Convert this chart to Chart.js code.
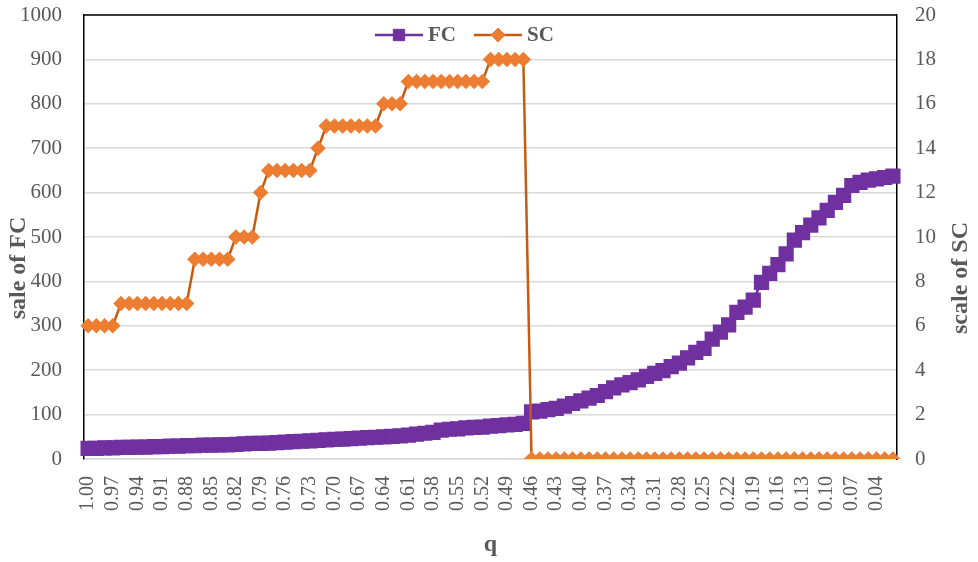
<!DOCTYPE html>
<html>
<head>
<meta charset="utf-8">
<script src="https://cdn.jsdelivr.net/npm/chart.js@4.4.1/dist/chart.umd.min.js"></script>
<style>
  body { margin: 0; background: #fff; }
  #wrap { width: 978px; height: 562px; }
</style>
</head>
<body>
<div id="wrap"><canvas id="QChart" width="978" height="562"></canvas></div>
<script>
var qLabels = [
  "1.00", "0.99", "0.98", "0.97", "0.96", "0.95", "0.94", "0.93", "0.92", "0.91",
  "0.90", "0.89", "0.88", "0.87", "0.86", "0.85", "0.84", "0.83", "0.82", "0.81",
  "0.80", "0.79", "0.78", "0.77", "0.76", "0.75", "0.74", "0.73", "0.72", "0.71",
  "0.70", "0.69", "0.68", "0.67", "0.66", "0.65", "0.64", "0.63", "0.62", "0.61",
  "0.60", "0.59", "0.58", "0.57", "0.56", "0.55", "0.54", "0.53", "0.52", "0.51",
  "0.50", "0.49", "0.48", "0.47", "0.46", "0.45", "0.44", "0.43", "0.42", "0.41",
  "0.40", "0.39", "0.38", "0.37", "0.36", "0.35", "0.34", "0.33", "0.32", "0.31",
  "0.30", "0.29", "0.28", "0.27", "0.26", "0.25", "0.24", "0.23", "0.22", "0.21",
  "0.20", "0.19", "0.18", "0.17", "0.16", "0.15", "0.14", "0.13", "0.12", "0.11",
  "0.10", "0.09", "0.08", "0.07", "0.06", "0.05", "0.04", "0.03", "0.02"
];

var fcValues = [
  24, 24, 25, 25, 26, 26, 27, 27, 28, 28,
  29, 29, 30, 30, 31, 31, 32, 32, 33, 34,
  35, 35, 36, 37, 38, 39, 40, 41, 42, 43,
  44, 45, 46, 47, 48, 49, 50, 51, 52, 54,
  56, 58, 60, 65, 67, 68, 70, 71, 72, 74,
  75, 77, 78, 80, 106, 108, 111, 114, 119, 125,
  131, 137, 143, 152, 160, 167, 172, 178, 186, 193,
  199, 208, 216, 228, 240, 249, 270, 286, 302, 330,
  342, 358, 398, 418, 438, 462, 493, 510, 527, 543,
  560, 578, 594, 616, 623, 628, 631, 634, 637
];

var scValues = [
  6, 6, 6, 6, 7, 7, 7, 7, 7, 7,
  7, 7, 7, 9, 9, 9, 9, 9, 10, 10,
  10, 12, 13, 13, 13, 13, 13, 13, 14, 15,
  15, 15, 15, 15, 15, 15, 16, 16, 16, 17,
  17, 17, 17, 17, 17, 17, 17, 17, 17, 18,
  18, 18, 18, 18, 0, 0, 0, 0, 0, 0,
  0, 0, 0, 0, 0, 0, 0, 0, 0, 0,
  0, 0, 0, 0, 0, 0, 0, 0, 0, 0,
  0, 0, 0, 0, 0, 0, 0, 0, 0, 0,
  0, 0, 0, 0, 0, 0, 0, 0, 0
];

var textGray = "#595959";
var serif = "'Liberation Serif', 'Times New Roman', serif";

// top frame line, axis titles and the legend (Excel style, legend inside plot)
var decorPlugin = {
  id: "decor",
  afterDraw: function (chart) {
    var ctx = chart.ctx;
    var area = chart.chartArea;
    ctx.save();
    ctx.strokeStyle = "#000";
    ctx.lineWidth = 1.5;
    ctx.beginPath();
    ctx.moveTo(area.left, area.top);
    ctx.lineTo(area.right, area.top);
    ctx.stroke();

    ctx.fillStyle = textGray;
    ctx.font = "bold 24px " + serif;
    ctx.textAlign = "center";
    ctx.textBaseline = "middle";
    ctx.fillText("q", (area.left + area.right) / 2, 545);

    ctx.save();
    ctx.translate(19, 268);
    ctx.rotate(-Math.PI / 2);
    ctx.fillText("sale of FC", 0, 0);
    ctx.restore();

    ctx.save();
    ctx.translate(961, 278);
    ctx.rotate(-Math.PI / 2);
    ctx.fillText("scale of SC", 0, 0);
    ctx.restore();

    // legend
    var x = 375;
    var y = area.top + 20;
    ctx.font = "bold 21px " + serif;
    ctx.textAlign = "left";
    chart.data.datasets.forEach(function (ds) {
      ctx.strokeStyle = ds.borderColor;
      ctx.lineWidth = ds.borderWidth;
      ctx.beginPath();
      ctx.moveTo(x, y);
      ctx.lineTo(x + 48, y);
      ctx.stroke();
      ctx.fillStyle = ds.pointBackgroundColor;
      ctx.strokeStyle = ds.pointBorderColor;
      ctx.lineWidth = 1;
      Chart.helpers.drawPoint(ctx, { pointStyle: ds.pointStyle, radius: ds.legendRadius, rotation: 0, borderWidth: 1 }, x + 24, y);
      ctx.fillStyle = textGray;
      ctx.fillText(ds.label, x + 53, y + 1);
      x += 53 + ctx.measureText(ds.label).width + 18;
    });
    ctx.restore();
  },
};

function noScalePadding(scale) {
  scale.paddingTop = 0;
  scale.paddingBottom = 0;
  scale.paddingLeft = 0;
  scale.paddingRight = 0;
}

new Chart(document.getElementById("QChart"), {
  type: "line",
  data: {
    labels: qLabels,
    datasets: [
      {
        label: "FC",
        data: fcValues,
        yAxisID: "y",
        borderColor: "#7030A0",
        backgroundColor: "#7030A0",
        pointBackgroundColor: "#7030A0",
        pointBorderColor: "#7030A0",
        pointStyle: "rect",
        pointRadius: 9,
        legendRadius: 8,
        borderWidth: 2.5,
        order: 1,
      },
      {
        label: "SC",
        data: scValues,
        yAxisID: "y2",
        borderColor: "#C55A11",
        backgroundColor: "#ED7D31",
        pointBackgroundColor: "#ED7D31",
        pointBorderColor: "#ED7D31",
        pointStyle: "rectRot",
        pointRadius: 6,
        legendRadius: 7,
        borderWidth: 2.5,
        order: 0,
      },
    ],
  },
  options: {
    responsive: false,
    animation: false,
    layout: {
      padding: { top: 15, left: 0, right: 0, bottom: 0 },
    },
    plugins: {
      legend: { display: false },
      tooltip: { enabled: false },
    },
    scales: {
      x: {
        offset: true,
        grid: { display: false, drawTicks: false },
        border: { color: "#D9D9D9", width: 1.5 },
        ticks: {
          autoSkip: false,
          maxRotation: 90,
          minRotation: 90,
          padding: 17,
          color: textGray,
          font: { family: serif, size: 20 },
          callback: function (value, index) {
            return index % 3 === 0 ? qLabels[index] : "";
          },
        },
        afterFit: function (scale) {
          scale.height = 103;
          noScalePadding(scale);
        },
      },
      y: {
        position: "left",
        min: 0,
        max: 1000,
        grid: { color: "#D9D9D9", lineWidth: 1.5, drawTicks: false },
        border: { color: "#000", width: 1.5 },
        ticks: {
          stepSize: 100,
          padding: 22,
          color: textGray,
          font: { family: serif, size: 21 },
          callback: function (value) {
            return String(value);
          },
        },
        afterFit: function (scale) {
          scale.width = 84;
          noScalePadding(scale);
        },
      },
      y2: {
        position: "right",
        min: 0,
        max: 20,
        grid: { drawOnChartArea: false, drawTicks: false },
        border: { color: "#000", width: 1.5 },
        ticks: {
          stepSize: 2,
          padding: 18,
          color: textGray,
          font: { family: serif, size: 21 },
          callback: function (value) {
            return String(value);
          },
        },
        afterFit: function (scale) {
          scale.width = 81;
          noScalePadding(scale);
        },
      },
    },
  },
  plugins: [decorPlugin],
});
</script>
</body>
</html>
